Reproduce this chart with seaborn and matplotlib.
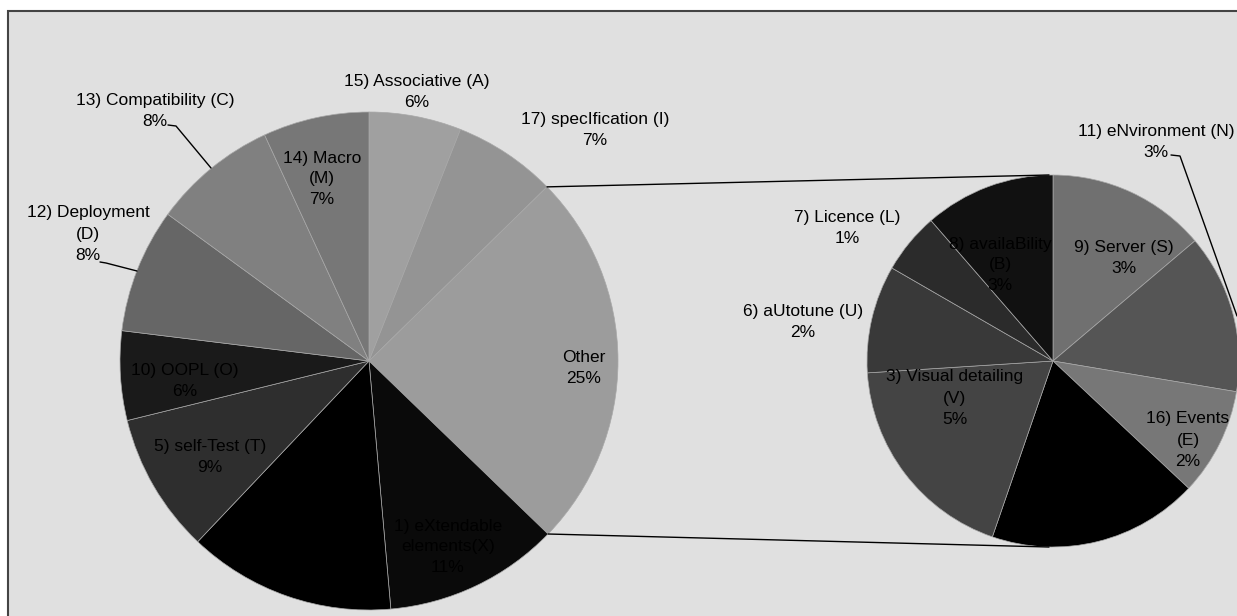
import numpy as np
import matplotlib
matplotlib.use('Agg')
import matplotlib.pyplot as plt
import seaborn as sns
from matplotlib.patches import Rectangle

# main pie, clockwise from 12 o'clock (values in % of total)
main_labels = ['15) Associative (A)', '17) specIfication (I)', 'Other',
               '1) eXtendable\nelements(X)', '', '5) self-Test (T)', '10) OOPL (O)',
               '12) Deployment\n(D)', '13) Compatibility (C)', '14) Macro\n(M)']
main_values = [6.0, 6.7, 24.6, 11.4, 13.5, 9.1, 5.8, 8.1, 8.1, 6.9]
main_colors = ['#a0a0a0', '#949494', '#9c9c9c', '#0a0a0a', '#000000',
               '#2e2e2e', '#1a1a1a', '#666666', '#808080', '#777777']

# secondary pie (breakdown of "Other"), clockwise from 12 o'clock
sub_labels = ['9) Server (S)', '11) eNvironment (N)', '16) Events\n(E)', '',
              '3) Visual detailing\n(V)', '6) aUtotune (U)', '7) Licence (L)',
              '8) availaBility\n(B)']
sub_values = [3.4, 3.4, 2.3, 4.5, 4.6, 2.3, 1.3, 2.8]
sub_colors = ['#707070', '#555555', '#777777', '#000000',
              '#444444', '#393939', '#2b2b2b', '#111111']

W, H = 1237, 616
sns.set_theme(style='white')
plt.rcParams['font.family'] = ['Liberation Sans', 'DejaVu Sans']

fig = plt.figure(figsize=(W / 100, H / 100), dpi=100)
fig.patch.set_facecolor('white')
ax = fig.add_axes([0, 0, 1, 1])

def Y(y):
    return H - y

# chart area
ax.add_patch(Rectangle((8, -20), W + 20, Y(11) + 20, facecolor='#e0e0e0',
                       edgecolor='#444444', lw=1.5, zorder=0))

mc, mr = (369, Y(361)), 249
sc, sr = (1053, Y(361)), 186
wp = dict(edgecolor='#a8a8a8', linewidth=0.5)

ax.pie(main_values, colors=main_colors, startangle=90, counterclock=False,
       center=mc, radius=mr, wedgeprops=wp, frame=True)
ax.pie(sub_values, colors=sub_colors, startangle=90, counterclock=False,
       center=sc, radius=sr, wedgeprops=wp, frame=True)

# connector lines from the "Other" slice to the secondary pie
tot = sum(main_values)
a0 = sum(main_values[:2]) / tot * 2 * np.pi
a1 = sum(main_values[:3]) / tot * 2 * np.pi
for a, yend in [(a0, sc[1] + sr), (a1, sc[1] - sr)]:
    x0 = mc[0] + mr * np.sin(a)
    y0 = mc[1] + mr * np.cos(a)
    ax.plot([x0, sc[0] - 4], [y0, yend], color='black', lw=1.0, zorder=5)

def pct(v):
    return f'{v:.0f}%'

# label positions (pixel coords of text centre)
main_pos = [(417, 92), (595, 130), (584, 368), (448, 547), (290, 548),
            (210, 457), (185, 381), (88, 234), (155, 111), (322, 179)]
sub_pos = [(1124, 258), (1156, 142), (1188, 440), (1085, 500),
           (955, 398), (803, 322), (847, 228), (1000, 265)]

fs, ls = 12.5, 1.5
for lab, v, (x, y) in zip(main_labels, main_values, main_pos):
    txt = (lab + '\n' if lab else '') + pct(v)
    ax.text(x, Y(y), txt, ha='center', va='center', fontsize=fs,
            color='black', linespacing=ls, zorder=6)
for lab, v, (x, y) in zip(sub_labels, sub_values, sub_pos):
    txt = (lab + '\n' if lab else '') + pct(v)
    ax.text(x, Y(y), txt, ha='center', va='center', fontsize=fs,
            color='black', linespacing=ls, zorder=6)

# leader lines
leaders = [[(100, 262), (106, 263), (137, 271)],
           [(168, 125), (176, 126), (211, 168)],
           [(1171, 155), (1180, 156), (1237, 316)]]
for pts in leaders:
    xs, ys = zip(*pts)
    ax.plot(xs, [Y(v) for v in ys], color='black', lw=1.0, zorder=5)

ax.set_xlim(0, W)
ax.set_ylim(0, H)
ax.set_aspect('equal')
ax.axis('off')

fig.savefig('out.png', dpi=100, facecolor='white')
